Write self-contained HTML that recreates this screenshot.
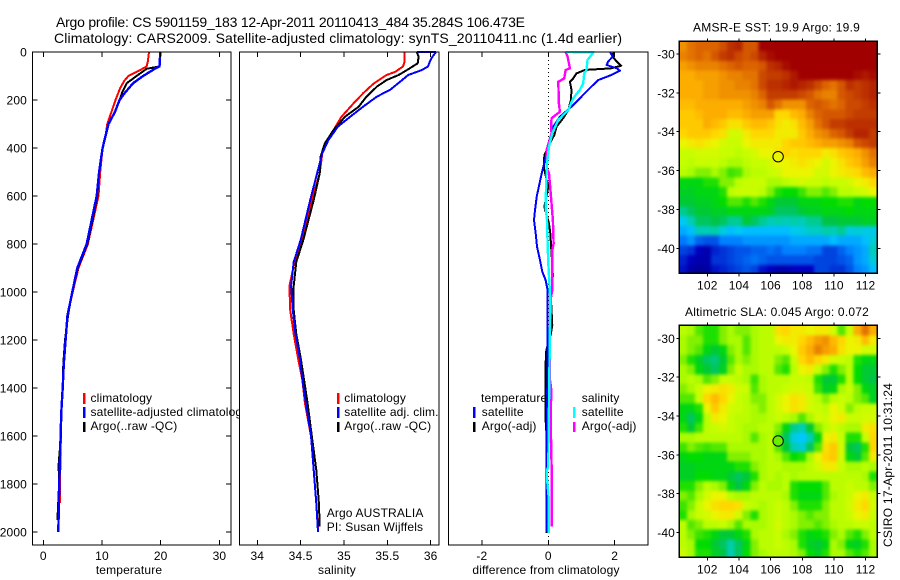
<!DOCTYPE html>
<html lang="en">
<head>
<meta charset="utf-8">
<title>Argo profile CS 5901159_183</title>
<style>
html,body{margin:0;padding:0;background:#fff;width:900px;height:580px;overflow:hidden}
svg{display:block}
text{font-family:"Liberation Sans",sans-serif;font-size:12px;fill:#000;letter-spacing:.15px}
</style>
</head>
<body>
<svg id="fig" xmlns="http://www.w3.org/2000/svg" width="900" height="580" viewBox="0 0 900 580">
  <defs>
    <filter id="mapBlur" filterUnits="userSpaceOnUse" x="660" y="20" width="240" height="560" color-interpolation-filters="sRGB"><feGaussianBlur stdDeviation="1.5"/></filter>
    <clipPath id="clip-m1"><rect x="679.3" y="41.3" width="198" height="232"/></clipPath>
    <clipPath id="clip-m2"><rect x="679.3" y="325.3" width="198" height="232"/></clipPath>
  </defs>
  <rect width="900" height="580" fill="#fff"/>
  <text x="56" y="27" style="font-size:14px;letter-spacing:0" textLength="469" lengthAdjust="spacing">Argo profile: CS 5901159_183 12-Apr-2011 20110413_484 35.284S 106.473E</text>
  <text x="54" y="43" style="font-size:14px;letter-spacing:0" textLength="568" lengthAdjust="spacing">Climatology: CARS2009. Satellite-adjusted climatology: synTS_20110411.nc (1.4d earlier)</text>

  <g id="p1"></g>
  <g id="p1-legend">
    <rect x="83" y="393" width="2.5" height="11" fill="#f00"/>
    <text x="90.5" y="402">climatology</text>
    <rect x="83" y="407" width="2.5" height="11" fill="#00f"/>
    <text x="90.5" y="416">satellite-adjusted climatology</text>
    <rect x="83" y="422" width="2.5" height="10" fill="#000"/>
    <text x="90.5" y="430">Argo(..raw -QC)</text>
  </g>

  <g id="p2"></g>
  <g id="p2-legend">
    <rect x="337" y="393" width="2.5" height="11" fill="#f00"/>
    <text x="344.3" y="402">climatology</text>
    <rect x="337" y="407" width="2.5" height="11" fill="#00f"/>
    <text x="344.3" y="416">satellite adj. clim.</text>
    <rect x="337" y="422" width="2.5" height="10" fill="#000"/>
    <text x="344.3" y="430">Argo(..raw -QC)</text>
    <text x="326.7" y="517">Argo AUSTRALIA</text>
    <text x="326.7" y="531">PI: Susan Wijffels</text>
  </g>

  <g id="p3"></g>
  <g id="p3-legend">
    <text x="481" y="402">temperature</text>
    <rect x="473" y="407" width="2.5" height="11" fill="#00f"/>
    <text x="481.7" y="416">satellite</text>
    <rect x="473" y="422" width="2.5" height="10" fill="#000"/>
    <text x="481.7" y="430">Argo(-adj)</text>
    <text x="581.7" y="402">salinity</text>
    <rect x="573" y="407" width="2.5" height="11" fill="#0ff"/>
    <text x="581.7" y="416">satellite</text>
    <rect x="573" y="422" width="2.5" height="10" fill="#f0f"/>
    <text x="581.7" y="430">Argo(-adj)</text>
  </g>

  <g id="m1"></g>
  <text x="776.5" y="31.5" text-anchor="middle" textLength="167" lengthAdjust="spacing">AMSR-E SST: 19.9 Argo: 19.9</text>
  <g id="m2"></g>
  <text x="777" y="316" text-anchor="middle" textLength="184" lengthAdjust="spacing">Altimetric SLA: 0.045 Argo: 0.072</text>
  <text transform="translate(892,547) rotate(-90)" textLength="164" lengthAdjust="spacing">CSIRO 17-Apr-2011 10:31:24</text>
</svg>
<script>
// ---- temperature profile data ----
const tempClimDepth = [0,40,60,75,100,120,150,200,250,300,350,400,500,600,700,800,900,1000,1100,1200,1300,1400,1500,1600,1800,1880];
const tempClim = [18.0,17.8,17.6,16.5,14.5,13.8,13.1,12.3,11.6,10.9,10.6,10.1,9.7,9.4,8.5,7.6,6.0,5.0,4.1,3.8,3.5,3.3,3.1,3.0,2.85,2.85];
const tempArgoDepth = [0,60,70,100,130,170,200,250,300,400,500,600,700,800,900,1000,1100,1200,1300,1400,1500,1600,1720,1800,1950];
const tempArgo = [19.9,19.8,17.6,15.9,14.2,13.4,13,12.2,11.1,10.1,9.5,9.2,8.4,7.5,5.9,4.9,4.2,3.7,3.4,3.3,3.1,3.0,2.6,2.7,2.4];
const tempSatDepth = [0,60,70,100,130,170,200,250,300,350,400,500,600,700,800,900,1000,1100,1200,1300,1400,1500,1600,1800,2000];
const tempSat = [19.94,19.8,19,17,15.3,13.9,13,12.2,11.1,10.6,10.1,9.5,9.1,8.24,7.4,5.8,4.94,4.1,3.8,3.5,3.3,3.07,2.95,2.73,2.56];
const tempTicks = [0,10,20,30];

// ---- salinity profile data ----
const salClimDepth = [0,20,40,60,83,96,132,172,214,270,325,367,422,506,617,783,875,975,1075,1175,1275,1367,1464,1603,1742,1880,1990];
const salClim = [35.7,35.7,35.7,35.68,35.59,35.49,35.34,35.22,35.11,34.97,34.88,34.82,34.75,34.72,34.63,34.51,34.43,34.37,34.38,34.42,34.47,34.52,34.55,34.62,34.65,34.68,34.7];
const salArgoDepth = [0,20,47,72,96,117,144,186,228,270,325,380,436,506,617,783,875,975,1075,1175,1275,1367,1464,1603,1742,1880,1978];
const salArgo = [35.84,35.86,35.85,35.74,35.63,35.49,35.38,35.26,35.17,35.01,34.88,34.78,34.73,34.72,34.65,34.53,34.45,34.42,34.42,34.45,34.5,34.54,34.58,34.63,34.68,34.71,34.72];
const salSatDepth = [0,1,20,40,60,75,96,117,158,186,228,270,311,367,422,506,617,783,875,975,1075,1175,1275,1367,1464,1603,1742,1880,2000];
const salSat = [35.84,36.06,36.02,35.99,35.97,35.9,35.74,35.67,35.53,35.38,35.22,35.07,34.93,34.82,34.75,34.69,34.61,34.5,34.42,34.39,34.41,34.44,34.49,34.52,34.56,34.62,34.65,34.68,34.7];
const salTicks = [34,34.5,35,35.5,36];

// ---- difference panel data ----
const diffTempArgoDepth = [0,19,40,57,68,75,89,110,124,158,200,242,276,311,346,367,429,485,561,645,714,756,930,964,1034,1138,1172,1242,1298,1367,1533,1600,2005];
const diffTempArgo = [1.96,1.94,2.06,2.2,1.9,1.1,0.85,0.75,0.65,0.7,0.68,0.6,0.45,0.25,0.18,0.1,-0.12,-0.13,0,-0.12,0.02,0.06,0.14,0.12,0.08,0.12,0.08,-0.06,-0.08,-0.08,-0.08,-0.05,-0.05];
const diffTempSatDepth = [0,19,40,54,68,78,96,117,158,186,228,270,311,367,422,506,603,659,700,756,811,867,916,950,992,1367,2000];
const diffTempSat = [1.86,1.94,1.8,1.76,2.06,2.16,1.9,1.5,1.2,1.0,0.7,0.35,0.15,0.05,-0.05,-0.2,-0.35,-0.4,-0.43,-0.38,-0.34,-0.25,-0.18,-0.08,-0.02,-0.03,-0.05];
const diffSalArgoDepth = [0,19,47,68,75,110,124,214,249,276,311,339,408,485,506,603,672,700,798,825,992,1020,1172,1367,1408,1464,1603,1728,1978];
const diffSalArgo = [0.52,0.58,0.62,0.65,0.52,0.48,0.3,0.32,0.35,0.1,0.08,0.1,-0.05,-0.05,0.02,0.08,0.12,0.14,0.16,0.12,0.12,0.08,0.05,0.05,0.09,0.08,0.08,0.1,0.1];
const diffSalSatDepth = [0,1,12,33,75,89,131,158,193,242,283,339,394,464,575,645,700,798,881,978,1034,1367,1464,1728,1742,1776,1853,2005];
const diffSalSat = [0.52,1.36,1.3,1.18,1.15,1.08,1.05,0.95,0.75,0.6,0.3,0.12,0.02,-0.04,-0.07,-0.08,-0.04,-0.02,0,0.04,0.06,0.03,0.02,0,-0.04,-0.04,0.01,0.01];
const diffTicks = [-2,0,2];

const depthTicks = [0,200,400,600,800,1000,1200,1400,1600,1800,2000];

// ---- map data: colour-scale level (0-100) per 0.5 degree cell, north to south ----
const mapLonTicks = [102,104,106,108,110,112];
const mapLatTicks = [-30,-32,-34,-36,-38,-40];
const argoLon = 106.473;
const argoLat = -35.284;
const argoSstLevel = 60;
const argoSlaLevel = 49;
const sstLevels = [
[76,80,82,82,82,85,90,92,84,84,98,98,98,98,98,98,98,98,98,98,98,98,98,98,98],
[78,80,82,80,84,88,90,86,84,86,92,96,98,98,98,98,98,98,98,98,98,98,98,98,98],
[74,76,78,78,78,80,82,84,82,82,84,90,92,96,98,98,98,98,98,98,98,98,98,98,98],
[72,72,74,74,74,76,78,78,80,80,86,88,88,90,94,98,98,98,98,98,98,98,96,94,96],
[72,72,72,74,74,76,76,78,78,80,86,90,90,92,94,92,90,86,82,80,84,90,88,90,92],
[72,72,72,74,74,76,76,76,76,78,82,88,88,88,88,86,84,80,78,78,84,86,88,90,92],
[70,70,72,72,72,72,72,72,74,76,78,84,80,76,76,76,82,84,82,80,82,86,86,88,90],
[68,68,70,72,72,72,70,70,72,74,74,74,66,66,70,72,78,82,84,84,84,86,88,88,88],
[68,68,68,72,70,68,64,64,68,70,70,68,64,62,64,70,74,80,84,88,88,90,90,90,90],
[66,68,68,68,66,64,58,58,62,66,66,66,62,62,62,68,72,76,78,82,84,88,92,92,88],
[60,62,64,62,60,58,56,56,60,62,62,62,62,66,68,68,70,72,74,74,76,78,84,86,88],
[56,56,58,58,58,56,56,54,56,58,60,60,64,66,64,66,66,66,62,64,68,70,72,76,80],
[55,54,56,56,56,54,52,52,54,56,56,58,60,60,62,64,62,60,58,60,64,68,70,74,78],
[54,52,50,50,52,50,47,48,52,54,54,56,58,60,60,60,60,58,58,60,62,64,66,70,72],
[44,44,44,46,46,50,50,54,56,56,56,52,52,54,56,58,56,56,54,56,56,58,60,62,66],
[43,43,44,44,44,46,54,56,56,56,54,50,46,45,45,47,50,50,48,50,54,54,56,58,60],
[42,42,43,43,44,45,48,48,46,48,46,44,42,42,42,44,44,44,45,45,46,46,44,45,45],
[38,40,42,42,43,43,44,44,44,44,44,43,40,40,40,42,43,43,44,44,44,45,44,44,44],
[32,36,40,40,41,40,38,38,42,40,38,36,37,36,37,36,38,38,41,41,42,42,42,43,43],
[28,30,36,36,37,33,30,32,30,30,30,30,30,30,32,33,35,35,37,36,38,33,34,33,33],
[23,26,20,18,18,24,24,24,26,26,26,26,26,26,28,28,28,28,28,30,28,28,28,30,34],
[16,14,8,6,12,14,16,18,18,20,20,22,20,24,24,24,22,22,16,16,20,24,26,28,36],
[12,8,6,6,14,14,16,18,20,22,20,18,18,18,18,18,18,16,16,16,18,20,26,28,34],
[10,5,3,4,10,12,14,16,18,16,10,8,6,6,8,8,8,16,16,14,14,18,24,26,30]
];
const slaLevels = [
[54,52,48,46,46,50,52,50,50,52,54,54,64,66,62,62,60,62,62,58,48,56,72,80,72],
[52,50,50,46,46,50,52,52,48,52,54,54,60,62,62,66,70,74,76,70,66,60,62,70,62],
[52,50,48,44,42,44,50,52,48,52,54,54,54,56,60,68,72,78,74,72,64,60,60,58,58],
[50,46,43,40,39,42,48,52,50,52,54,54,50,48,56,66,70,66,62,58,56,54,46,44,44],
[52,50,44,42,40,43,50,56,52,52,54,54,48,46,54,60,62,56,50,46,50,54,45,42,42],
[52,54,52,48,50,56,56,54,52,47,52,54,54,54,56,56,54,46,42,42,46,54,45,42,41],
[50,52,56,60,62,64,62,58,56,48,52,54,54,56,58,58,56,47,43,44,52,56,50,44,43],
[48,48,56,66,70,66,60,56,54,50,50,54,58,60,64,62,58,54,50,54,56,54,50,48,43],
[44,44,46,60,68,62,58,56,54,52,50,54,58,60,64,62,58,56,54,60,58,50,54,56,56],
[44,40,44,54,62,60,56,54,54,52,52,54,56,54,52,48,52,58,56,60,62,56,56,58,58],
[46,42,47,54,56,58,56,54,52,52,54,54,50,44,38,36,42,50,54,58,54,52,52,62,64],
[52,52,54,54,54,54,54,54,52,48,52,54,48,40,33,31,36,44,60,62,56,46,46,56,66],
[47,50,48,47,48,48,52,52,52,52,52,54,48,42,36,34,40,48,64,68,58,42,40,46,66],
[44,45,45,44,44,44,50,50,50,52,52,54,52,48,45,46,52,60,66,68,58,44,42,48,62],
[43,43,44,44,44,44,44,46,46,50,52,54,54,52,52,52,54,58,62,62,56,52,52,54,52],
[43,43,45,45,44,44,42,40,42,46,52,54,52,54,52,54,54,54,54,54,54,54,54,52,46],
[46,46,50,54,52,50,44,41,44,50,54,52,52,54,46,45,45,45,48,54,54,56,54,54,50],
[50,48,52,58,60,60,54,52,52,54,54,54,54,52,46,44,44,44,48,52,54,56,60,62,56],
[47,50,56,60,64,66,66,64,56,54,52,54,56,54,50,46,46,46,50,54,54,58,62,66,58],
[46,52,56,58,60,62,62,58,50,46,52,54,56,54,52,50,48,50,50,54,54,56,60,62,56],
[54,48,50,54,54,56,52,48,52,52,52,54,58,54,52,50,50,48,50,52,54,54,56,56,54],
[54,50,47,46,44,42,42,44,46,52,54,54,56,52,50,46,44,45,46,50,52,48,46,50,54],
[54,52,45,45,42,40,37,40,44,50,54,54,56,54,52,46,43,42,44,52,50,44,43,46,52],
[56,52,46,46,43,41,36,40,45,50,52,54,54,54,52,50,45,43,46,52,52,48,46,48,52]
];

const NS = 'http://www.w3.org/2000/svg';
function make(parent, tag, attrs, name, txt) {
  const el = document.createElementNS(NS, tag);
  for (const k in attrs) el.setAttribute(k, attrs[k]);
  
  
  if (txt !== undefined) el.textContent = txt;
  parent.appendChild(el);
  return el;
}

// ---- profile axes ----
const plotTop = 52, plotBottom = 545;
const yDepth = d => 52 + d * 0.24;
function xLinear(v0, px0, pxPerUnit) { return v => px0 + (v - v0) * pxPerUnit; }

function drawPanel(id, left, right, xScale, ticks, tickFmt, xlabel, xlabelX, showDepth) {
  const g = document.getElementById(id);
  make(g, 'rect', {x:left, y:plotTop, width:right-left, height:plotBottom-plotTop, fill:'#fff', stroke:'none'}, id + '-plot-area');
  return {g, left, right, xScale, ticks, tickFmt, xlabel, xlabelX, showDepth};
}
function finishPanel(p) {
  const {g, left, right, xScale, ticks, tickFmt, xlabel, xlabelX, showDepth} = p;
  make(g, 'rect', {x:left, y:plotTop, width:right-left, height:plotBottom-plotTop, fill:'none', stroke:'#000', 'stroke-width':1.2, 'shape-rendering':'crispEdges'}, 'plot-frame');
  ticks.forEach(t => {
    const x = xScale(t);
    make(g, 'line', {x1:x, x2:x, y1:plotTop, y2:plotTop+5, stroke:'#000', 'shape-rendering':'crispEdges'}, 'x-tick-top');
    make(g, 'line', {x1:x, x2:x, y1:plotBottom, y2:plotBottom-5, stroke:'#000', 'shape-rendering':'crispEdges'}, 'x-tick-bottom');
    make(g, 'text', {x:x, y:560, 'text-anchor':'middle'}, 'x-tick-label', tickFmt(t));
  });
  if (showDepth) {
    depthTicks.forEach(d => {
      const y = yDepth(d);
      make(g, 'line', {x1:left, x2:left+5, y1:y, y2:y, stroke:'#000', 'shape-rendering':'crispEdges'}, 'y-tick-left');
      make(g, 'line', {x1:right, x2:right-5, y1:y, y2:y, stroke:'#000', 'shape-rendering':'crispEdges'}, 'y-tick-right');
      make(g, 'text', {x:27, y:y+4.5, 'text-anchor':'end'}, 'y-tick-label', String(d));
    });
  }
  make(g, 'text', {x:xlabelX, y:574, 'text-anchor':'middle'}, 'x-axis-title', xlabel);
}
function drawLine(p, values, depths, color, name, width) {
  const pts = values.map((v, i) => p.xScale(v).toFixed(1) + ',' + yDepth(depths[i]).toFixed(1)).join(' ');
  make(p.g, 'polyline', {points:pts, fill:'none', stroke:color, 'stroke-width':width || 2, 'stroke-linejoin':'round', 'shape-rendering':'crispEdges'}, name);
}

const p1 = drawPanel('p1', 32.5, 231, xLinear(0, 43.3, 5.87), tempTicks, String, 'temperature', 129, true);
drawLine(p1, tempClim, tempClimDepth, '#f00', 'temperature-climatology-line');
drawLine(p1, tempArgo, tempArgoDepth, '#000', 'temperature-argo-line');
drawLine(p1, tempSat, tempSatDepth, '#00f', 'temperature-satellite-line', 2.4);
finishPanel(p1);

const p2 = drawPanel('p2', 239.5, 439, xLinear(34, 257.3, 86.7), salTicks, String, 'salinity', 337, false);
drawLine(p2, salClim, salClimDepth, '#f00', 'salinity-climatology-line');
drawLine(p2, salArgo, salArgoDepth, '#000', 'salinity-argo-line');
drawLine(p2, salSat, salSatDepth, '#00f', 'salinity-satellite-line');
finishPanel(p2);

const p3 = drawPanel('p3', 448.5, 648, xLinear(0, 548.3, 33.2), diffTicks, String, 'difference from climatology', 546, false);
const zeroX = p3.xScale(0);
make(p3.g, 'line', {x1:zeroX, x2:zeroX, y1:plotTop, y2:plotBottom, stroke:'#000', 'stroke-width':1, 'stroke-dasharray':'1 3', 'shape-rendering':'crispEdges'}, 'zero-reference-line');
drawLine(p3, diffTempArgo, diffTempArgoDepth, '#000', 'difference-temperature-argo-line');
drawLine(p3, diffTempSat, diffTempSatDepth, '#00f', 'difference-temperature-satellite-line');
drawLine(p3, diffSalArgo, diffSalArgoDepth, '#f0f', 'difference-salinity-argo-line', 2.4);
drawLine(p3, diffSalSat, diffSalSatDepth, '#0ff', 'difference-salinity-satellite-line', 2.4);
finishPanel(p3);

// ---- maps ----
const colourStops = [[0,0,0,130],[8,0,0,190],[15,0,60,220],[24,0,130,255],[31,0,200,255],[37,0,205,170],[41,0,195,70],[45,0,220,0],[47,60,228,0],[50,130,240,0],[52,170,250,0],[55,195,255,0],[58,210,250,0],[60,235,245,0],[66,255,215,0],[71,255,180,0],[76,240,145,0],[82,220,100,0],[88,195,60,0],[98,160,0,0],[100,160,0,0]];
function levelColour(v) {
  for (let i = 1; i < colourStops.length; i++) {
    const a = colourStops[i-1], b = colourStops[i];
    if (v <= b[0]) {
      const f = Math.max(0, (v - a[0]) / (b[0] - a[0]));
      return 'rgb(' + [1,2,3].map(k => Math.round(a[k] + (b[k] - a[k]) * f)).join(',') + ')';
    }
  }
  return 'rgb(160,0,0)';
}

function drawMap(id, levels, top, lat30Y, argoLevel, cellName) {
  const g = document.getElementById(id);
  const left = 679.3, right = 877.3, bottom = top + 232;
  const xLon = lon => 707.3 + (lon - 102) * 15.83;
  const yLat = lat => lat30Y + (-30 - lat) * 19.43;
  const lonStart = 100.23, latStart = -29.35, step = 0.5;
  const cellW = (right - left) / levels[0].length;
  const cellH = (bottom - top) / levels.length;
  const clipGroup = make(g, 'g', {'clip-path':'url(#clip-' + id + ')'}, 'map-image-clip');
  const cells = make(clipGroup, 'g', {filter:'url(#mapBlur)'}, 'map-image');
  const lastRow = levels.length - 1, lastCol = levels[0].length - 1, pad = 8;
  levels.forEach((row, r) => {
    row.forEach((v, c) => {
      const x = xLon(lonStart + c * step);
      const y = yLat(latStart - r * step);
      const padL = c === 0 ? pad : 0, padR = c === lastCol ? pad : 0;
      const padT = r === 0 ? pad : 0, padB = r === lastRow ? pad : 0;
      make(cells, 'rect', {x:(x-padL).toFixed(2), y:(y-padT).toFixed(2), width:(cellW+0.4+padL+padR).toFixed(2), height:(cellH+0.4+padT+padB).toFixed(2), fill:levelColour(v), 'shape-rendering':'crispEdges'}, cellName);
    });
  });
  make(g, 'rect', {x:left, y:top, width:right-left, height:bottom-top, fill:'none', stroke:'#000', 'stroke-width':1.2, 'shape-rendering':'crispEdges'}, 'map-frame');
  mapLonTicks.forEach(lon => {
    const x = xLon(lon);
    make(g, 'line', {x1:x, x2:x, y1:top-3, y2:top, stroke:'#000', 'shape-rendering':'crispEdges'}, 'map-lon-tick-top');
    make(g, 'line', {x1:x, x2:x, y1:bottom, y2:bottom+3, stroke:'#000', 'shape-rendering':'crispEdges'}, 'map-lon-tick-bottom');
    make(g, 'text', {x:x, y:bottom+16, 'text-anchor':'middle'}, 'map-lon-label', String(lon));
  });
  mapLatTicks.forEach(lat => {
    const y = yLat(lat);
    make(g, 'line', {x1:left-3, x2:left, y1:y, y2:y, stroke:'#000', 'shape-rendering':'crispEdges'}, 'map-lat-tick-left');
    make(g, 'line', {x1:right, x2:right+3, y1:y, y2:y, stroke:'#000', 'shape-rendering':'crispEdges'}, 'map-lat-tick-right');
    make(g, 'text', {x:675, y:y+4.5, 'text-anchor':'end'}, 'map-lat-label', String(lat));
  });
  make(g, 'circle', {cx:xLon(argoLon), cy:yLat(argoLat), r:5.2, fill:levelColour(argoLevel), stroke:'#000', 'stroke-width':1}, 'argo-position-marker');
}
drawMap('m1', sstLevels, 41.3, 54, argoSstLevel, 'sst-cell');
drawMap('m2', slaLevels, 325.3, 338.3, argoSlaLevel, 'sla-cell');

// keep legends above their own panel but beneath the next panel's white background
const fig = document.getElementById('fig');
fig.insertBefore(document.getElementById('p1-legend'), document.getElementById('p2'));
</script>
</body>
</html>
